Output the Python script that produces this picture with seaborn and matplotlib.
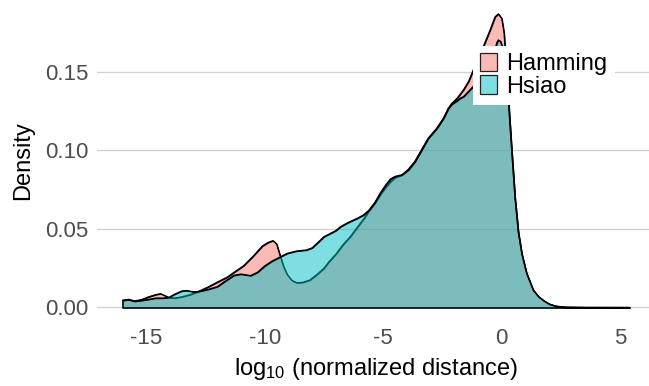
import matplotlib
matplotlib.use("Agg")
import matplotlib.pyplot as plt
import seaborn as sns
import pandas as pd
from matplotlib.patches import Patch
from matplotlib.colors import to_rgba

# ---- data ----
series_names = ["Hamming", "Hsiao"]
series_colors = ["#F8766D", "#00BFC4"]

hamming_x = [-16.0, -15.75, -15.5, -15.2, -14.9, -14.6, -14.4, -14.2, -14.05, -13.8,
             -13.5, -13.15, -12.8, -12.4, -12.0, -11.6, -11.2, -10.9, -10.5, -10.1,
             -9.85, -9.65, -9.5, -9.35, -9.2, -9.05, -8.85, -8.65, -8.4, -8.1,
             -7.8, -7.5, -7.3, -7.0, -6.7, -6.4, -6.1, -5.8, -5.6, -5.35,
             -5.1, -4.9, -4.7, -4.5, -4.22, -3.94, -3.66, -3.38, -3.1, -2.74,
             -2.46, -2.25, -2.11, -1.9, -1.62, -1.4, -1.2, -1.0, -0.78, -0.49,
             -0.28, -0.14, 0.0, 0.1, 0.2, 0.28, 0.42, 0.56, 0.7, 0.85,
             1.05, 1.33, 1.55, 1.76, 2.0, 2.3, 2.7, 3.5, 5.4]
hamming_density = [0.0045, 0.0052, 0.0042, 0.0050, 0.0068, 0.0082, 0.0088, 0.0075, 0.0064, 0.0060,
                   0.0068, 0.0082, 0.0102, 0.0130, 0.0162, 0.0192, 0.0234, 0.0265, 0.0325, 0.0392,
                   0.0415, 0.0426, 0.0405, 0.0330, 0.0260, 0.0210, 0.0172, 0.0158, 0.0160, 0.0175,
                   0.0210, 0.0250, 0.0290, 0.0340, 0.0400, 0.0450, 0.0510, 0.0570, 0.0617, 0.0665,
                   0.0725, 0.0765, 0.0800, 0.0828, 0.0843, 0.0880, 0.0932, 0.1005, 0.1078, 0.1141,
                   0.1205, 0.1269, 0.1300, 0.1330, 0.1385, 0.1440, 0.1513, 0.1580, 0.1661, 0.1768,
                   0.1852, 0.1870, 0.1842, 0.1747, 0.1520, 0.1330, 0.1003, 0.0700, 0.0480, 0.0340,
                   0.0218, 0.0111, 0.0070, 0.0045, 0.0022, 0.0008, 0.0002, 0.00004, 0.0]

hsiao_x = [-16.0, -15.75, -15.5, -15.2, -14.9, -14.6, -14.3, -14.05, -13.8, -13.5,
           -13.3, -13.0, -12.8, -12.4, -12.0, -11.7, -11.3, -11.0, -10.6, -10.3,
           -10.0, -9.7, -9.35, -9.05, -8.65, -8.25, -8.0, -7.75, -7.5, -7.0,
           -6.8, -6.5, -6.1, -5.85, -5.6, -5.35, -5.1, -4.9, -4.7, -4.5,
           -4.22, -3.94, -3.66, -3.38, -3.1, -2.74, -2.46, -2.25, -2.11, -1.9,
           -1.76, -1.6, -1.35, -1.0, -0.78, -0.55, -0.35, -0.2, -0.14, -0.05,
           0.05, 0.14, 0.28, 0.42, 0.56, 0.7, 0.85, 1.05, 1.33, 1.55,
           1.76, 2.0, 2.3, 2.7, 3.5, 5.4]
hsiao_density = [0.0045, 0.0050, 0.0040, 0.0045, 0.0052, 0.0060, 0.0060, 0.0064, 0.0085, 0.0105,
                 0.0108, 0.0100, 0.0102, 0.0115, 0.0133, 0.0165, 0.0205, 0.0213, 0.0203, 0.0225,
                 0.0265, 0.0295, 0.0322, 0.0345, 0.0360, 0.0366, 0.0380, 0.0415, 0.0451, 0.0490,
                 0.0515, 0.0540, 0.0568, 0.0588, 0.0620, 0.0670, 0.0735, 0.0780, 0.0818, 0.0835,
                 0.0845, 0.0876, 0.0929, 0.1003, 0.1078, 0.1141, 0.1205, 0.1269, 0.1294, 0.1315,
                 0.1332, 0.1345, 0.1385, 0.1440, 0.1481, 0.1560, 0.1610, 0.1690, 0.1704, 0.1695,
                 0.1650, 0.1580, 0.1320, 0.1003, 0.0700, 0.0480, 0.0340, 0.0218, 0.0111, 0.0070,
                 0.0045, 0.0022, 0.0008, 0.0002, 0.00004, 0.0]

x_ticks = [-15, -10, -5, 0, 5]
x_tick_labels = ["-15", "-10", "-5", "0", "5"]
y_ticks = [0.00, 0.05, 0.10, 0.15]
y_tick_labels = ["0.00", "0.05", "0.10", "0.15"]
x_title = r"$\mathregular{log_{10}}$ (normalized distance)"
y_title = "Density"

# ---- styling ----
sns.set_theme(style="white")
plt.rcParams["font.family"] = ["Liberation Sans", "DejaVu Sans"]
plt.rcParams["mathtext.fontset"] = "custom"
plt.rcParams["mathtext.rm"] = "Liberation Sans"

W, H = 649, 386
fig = plt.figure(figsize=(W / 100, H / 100), dpi=100)
ax = fig.add_axes([97 / W, (H - 322) / H, (655 - 97) / W, 322 / H])

frames = [
    pd.DataFrame({"x": hamming_x, "density": hamming_density, "code": series_names[0]}),
    pd.DataFrame({"x": hsiao_x, "density": hsiao_density, "code": series_names[1]}),
]

z = 2
for df, col in zip(frames, series_colors):
    ax.fill_between(df["x"], df["density"], 0, facecolor=to_rgba(col, 0.5),
                    edgecolor="black", linewidth=0.9, zorder=z)
    sns.lineplot(data=df, x="x", y="density", color="black", linewidth=0.9,
                 ax=ax, zorder=z + 0.05, legend=False)
    z += 0.1

ax.set_xlim(-17.076, 6.468)
ax.set_ylim(-0.00924, 0.19586)
ax.set_xticks(x_ticks)
ax.set_xticklabels(x_tick_labels)
ax.set_yticks(y_ticks)
ax.set_yticklabels(y_tick_labels)

for s in ax.spines.values():
    s.set_visible(False)
ax.yaxis.grid(True, color="#d0d0d0", linewidth=0.9)
ax.xaxis.grid(False)
ax.set_axisbelow(True)
ax.tick_params(axis="both", which="major", direction="out", length=2.4, width=0.8,
               color="#333333", labelcolor="#4d4d4d", labelsize=16)
ax.tick_params(axis="x", pad=2.0)
ax.tick_params(axis="y", pad=3.5)

ax.set_xlabel(x_title, fontsize=17, color="black", labelpad=5)
ax.set_ylabel(y_title, fontsize=17, color="black", labelpad=8)

handles = [Patch(facecolor=to_rgba(c, 0.5), edgecolor="#222222", linewidth=0.9)
           for c in series_colors]
leg = ax.legend(handles, series_names, loc="upper left",
                bbox_to_anchor=(473 / W, 1 - 46 / H), bbox_transform=fig.transFigure,
                fontsize=17, frameon=True, fancybox=False, framealpha=1.0,
                facecolor="white", edgecolor="none", borderpad=0.3,
                handlelength=0.72, handleheight=0.82, handletextpad=0.4,
                labelspacing=0.0, borderaxespad=0)
leg.set_zorder(10)
for t in leg.get_texts():
    t.set_color("black")

fig.savefig("out.png", dpi=100)
